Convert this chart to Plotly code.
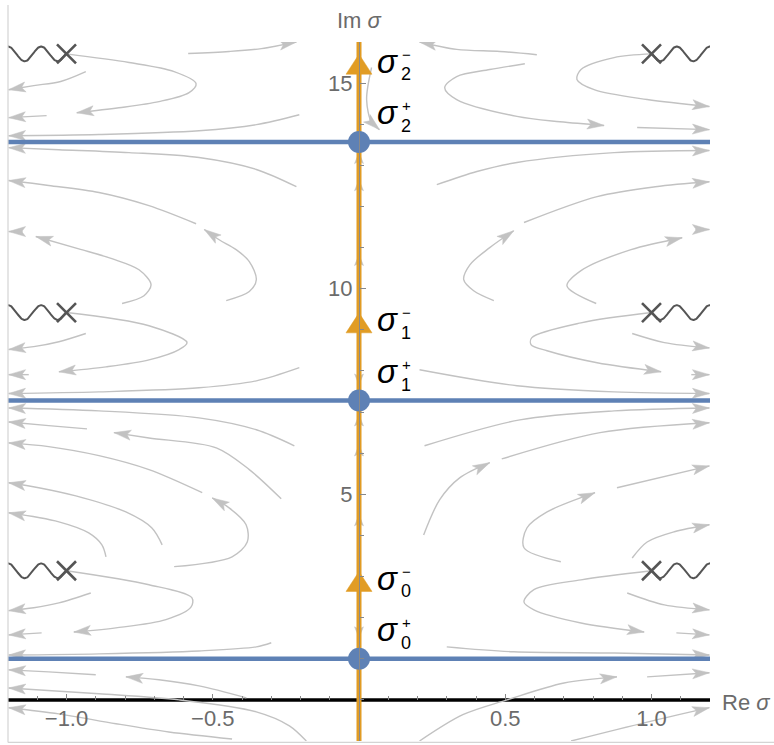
import numpy as np
import plotly.graph_objects as go

# ---------------- plot window ----------------
X_RANGE = [-1.2, 1.2]
Y_RANGE = [-1.0, 16.0]

# axis ticks
x_tick_vals = [-1.0, -0.5, 0.5, 1.0]
x_tick_text = ["\u22121.0", "\u22120.5", "0.5", "1.0"]
y_tick_vals = [5, 10, 15]
y_tick_text = ["5", "10", "15"]

# points on the imaginary axis
sigma_plus_im = [1.0, 7.28, 13.57]     # σ_n^+  (blue lines / dots)
sigma_minus_im = [2.88, 9.17, 15.46]   # σ_n^-  (orange triangles)
label_index = ["0", "1", "2"]

# branch points at Re σ = ±1, cuts running outward
branch_re = [-1.0, 1.0]
branch_im = [3.14, 9.42, 15.71]

# small flow arrows lying on the imaginary axis
axis_flow_up = [4.50, 6.20, 6.93, 10.83, 12.65, 13.31]
axis_flow_down = [1.51, 7.66]

# streamlines: (Re σ, Im σ) points listed in the flow direction
streams_left_upper = [
    [(-0.584, 15.72), (-0.444, 15.77), (-0.334, 15.84), (-0.214, 16.0)],
    [(-1.0, 15.71), (-0.786, 15.50), (-0.632, 15.28), (-0.557, 14.99), (-0.581, 14.77),
     (-0.684, 14.55), (-0.821, 14.40), (-0.965, 14.28)],
    [(-0.934, 15.28), (-1.020, 15.04), (-1.112, 14.94), (-1.198, 14.84)],
    [(-1.068, 14.21), (-1.198, 14.16)],
    [(-0.204, 14.23), (-0.351, 13.99), (-0.547, 13.84), (-0.889, 13.75), (-1.198, 13.72)],
    [(-0.214, 12.48), (-0.351, 12.90), (-0.547, 13.19), (-0.786, 13.31), (-1.026, 13.38), (-1.198, 13.43)],
    [(-0.557, 11.58), (-0.718, 12.02), (-0.889, 12.34), (-1.061, 12.51), (-1.198, 12.63)],
    [(-1.150, 11.39), (-1.198, 11.39)],
]

streams_left_middle = [
    [(-0.810, 9.64), (-0.735, 9.83), (-0.711, 10.10), (-0.752, 10.46), (-0.845, 10.73),
     (-0.958, 10.97), (-1.105, 11.27)],
    [(-0.454, 9.71), (-0.375, 9.93), (-0.351, 10.22), (-0.375, 10.66), (-0.420, 10.95),
     (-0.478, 11.19), (-0.529, 11.44)],
    [(-1.0, 9.42), (-0.718, 9.10), (-0.588, 8.69), (-0.615, 8.52), (-0.718, 8.27),
     (-0.865, 8.10), (-1.026, 7.98)],
    [(-0.934, 8.91), (-1.026, 8.71), (-1.112, 8.59), (-1.198, 8.52)],
    [(-1.129, 7.91), (-1.198, 7.91)],
    [(-0.204, 8.08), (-0.351, 7.76), (-0.547, 7.59), (-0.889, 7.49), (-1.198, 7.45)],
    [(-0.221, 6.18), (-0.351, 6.57), (-0.547, 6.86), (-0.889, 7.03), (-1.198, 7.10)],
    [(-0.930, 6.59), (-1.061, 6.67), (-1.198, 6.76)],
    [(-0.266, 4.89), (-0.375, 5.60), (-0.488, 6.13), (-0.718, 6.37), (-0.838, 6.50)],
    [(-0.536, 5.04), (-0.718, 5.60), (-0.889, 5.94), (-1.061, 6.16), (-1.198, 6.25)],
    [(-0.673, 3.77), (-0.708, 4.18), (-0.797, 4.57), (-0.968, 4.96), (-1.095, 5.16), (-1.198, 5.28)],
    [(-0.632, 3.24), (-0.434, 3.48), (-0.382, 3.84), (-0.386, 4.26), (-0.444, 4.67), (-0.502, 4.91)],
    [(-0.865, 3.48), (-0.879, 3.77), (-0.924, 4.06), (-1.026, 4.33), (-1.198, 4.55)],
]

streams_left_lower = [
    [(-1.0, 3.14), (-0.718, 2.80), (-0.571, 2.48), (-0.574, 2.26), (-0.660, 1.95),
     (-0.831, 1.75), (-0.975, 1.65)],
    [(-0.917, 2.60), (-1.026, 2.36), (-1.112, 2.24), (-1.198, 2.17)],
    [(-1.085, 1.63), (-1.198, 1.58)],
    [(-0.300, 1.39), (-0.351, 1.29), (-0.547, 1.19), (-0.889, 1.12), (-1.198, 1.09)],
    [(-0.900, 0.61), (-1.061, 0.68), (-1.198, 0.73)],
    [(-0.385, 0.05), (-0.547, 0.34), (-0.684, 0.49), (-0.797, 0.56)],
    [(-0.180, -1.0), (-0.238, -0.63), (-0.351, -0.29), (-0.615, 0.0), (-0.889, 0.15), (-1.198, 0.29)],
    [(-0.434, -0.95), (-0.650, -0.78), (-0.831, -0.58), (-1.026, -0.34), (-1.198, -0.19)],
]

streams_right_upper = [
    [(0.608, 15.69), (0.482, 15.77), (0.334, 15.82), (0.207, 16.0)],
    [(1.0, 15.71), (0.872, 15.62), (0.759, 15.33), (0.745, 15.09), (0.804, 14.84),
     (0.985, 14.60), (1.198, 14.43)],
    [(0.567, 15.47), (0.447, 15.33), (0.334, 15.16), (0.293, 14.89), (0.334, 14.60),
     (0.540, 14.19), (0.687, 14.06), (0.838, 13.97)],
    [(0.951, 13.92), (1.198, 13.87)],
    [(0.266, 12.53), (0.403, 12.85), (0.540, 13.07), (0.872, 13.31), (1.198, 13.36)],
    [(0.564, 11.61), (0.814, 12.24), (1.013, 12.48), (1.198, 12.60)],
    [(1.150, 11.44), (1.198, 11.44)],
    [(0.043, 15.38), (0.026, 14.60), (0.043, 14.04), (0.070, 13.87)],
]

streams_right_middle = [
    [(0.811, 9.64), (0.711, 10.07), (0.759, 10.44), (0.930, 10.95), (1.105, 11.24)],
    [(0.461, 9.71), (0.392, 9.95), (0.358, 10.22), (0.379, 10.58), (0.447, 11.00), (0.529, 11.41)],
    [(1.0, 9.42), (0.759, 9.17), (0.591, 8.81), (0.588, 8.64), (0.643, 8.49),
     (0.814, 8.20), (1.033, 7.98)],
    [(0.934, 8.91), (1.044, 8.69), (1.198, 8.56)],
    [(1.136, 7.91), (1.198, 7.91)],
    [(0.207, 8.03), (0.540, 7.64), (0.872, 7.49), (1.198, 7.45)],
    [(0.224, 6.18), (0.550, 6.81), (0.872, 7.03), (1.198, 7.10)],
    [(0.488, 5.86), (0.824, 6.50), (1.198, 6.74)],
    [(0.221, 4.01), (0.276, 4.87), (0.344, 5.40), (0.447, 5.77)],
    [(0.882, 5.16), (1.198, 5.69)],
    [(0.690, 3.36), (0.564, 3.70), (0.574, 4.18), (0.643, 4.57), (0.807, 5.04)],
    [(0.934, 3.45), (0.985, 3.84), (1.078, 4.09), (1.198, 4.26)],
]

streams_right_lower = [
    [(1.0, 3.14), (0.759, 2.92), (0.598, 2.68), (0.564, 2.38), (0.598, 2.19),
     (0.759, 1.87), (0.975, 1.65)],
    [(0.917, 2.60), (1.044, 2.31), (1.198, 2.19)],
    [(1.085, 1.63), (1.198, 1.58)],
    [(0.300, 1.29), (0.529, 1.17), (0.872, 1.14), (1.198, 1.09)],
    [(0.207, -1.0), (0.355, -0.36), (0.506, 0.0), (0.701, 0.41), (0.882, 0.56)],
    [(0.985, 0.56), (1.198, 0.66)],
    [(0.725, -1.0), (0.985, -0.54), (1.198, -0.19)],
]

all_streams = (streams_left_upper + streams_left_middle + streams_left_lower
               + streams_right_upper + streams_right_middle + streams_right_lower)

# ---------------- styling ----------------
W, H = 774, 745
MARGIN = dict(l=8, r=64, t=42, b=4)
SX = (W - MARGIN["l"] - MARGIN["r"]) / (X_RANGE[1] - X_RANGE[0])   # px per unit Re
SY = (H - MARGIN["t"] - MARGIN["b"]) / (Y_RANGE[1] - Y_RANGE[0])   # px per unit Im

BLUE = "#5E81B5"
ORANGE = "#E19C24"
STREAM = "#c2c2c2"
CUT = "#555555"
AXIS_GRAY = "#6b6b6b"
FONT = "Liberation Sans"


def arrowhead(p_from, p_tip, length=17.0, half=5.0, notch=3.8):
    """Notched arrowhead polygon (data units) ending at p_tip."""
    dx = (p_tip[0] - p_from[0]) * SX
    dy = (p_tip[1] - p_from[1]) * SY
    n = np.hypot(dx, dy)
    ux, uy = dx / n, dy / n
    px, py = -uy, ux
    pts = [(0.0, 0.0),
           (-length * ux + half * px, -length * uy + half * py),
           (-(length - notch) * ux, -(length - notch) * uy),
           (-length * ux - half * px, -length * uy - half * py),
           (0.0, 0.0)]
    return ([p_tip[0] + a / SX for a, _ in pts],
            [p_tip[1] + b / SY for _, b in pts])


def triangle(xc, yc, half_w=13.0, half_h=10.0):
    xs = [xc - half_w / SX, xc + half_w / SX, xc, xc - half_w / SX]
    ys = [yc - half_h / SY, yc - half_h / SY, yc + half_h / SY, yc - half_h / SY]
    return xs, ys


def branch_cut(x_pt, y_pt, x_edge, period=0.113, amp=0.18, lead=0.03):
    xs = np.linspace(x_pt, x_edge, 120)
    d = np.abs(xs - x_pt)
    ys = y_pt - amp * np.cos(2 * np.pi * (d - lead) / period)
    return xs, ys


fig = go.Figure()

# stream lines
for s in all_streams:
    fig.add_trace(go.Scatter(
        x=[p[0] for p in s], y=[p[1] for p in s], mode="lines",
        line=dict(color=STREAM, width=1.4, shape="spline", smoothing=0.9),
        hoverinfo="skip", showlegend=False))

# their arrowheads
ax_, ay_ = [], []
for s in all_streams:
    hx, hy = arrowhead(s[-2], s[-1])
    ax_ += hx + [None]
    ay_ += hy + [None]
for yv in axis_flow_up:
    hx, hy = arrowhead((0.0, yv - 0.5), (0.0, yv), length=11, half=4.5, notch=2.5)
    ax_ += hx + [None]
    ay_ += hy + [None]
for yv in axis_flow_down:
    hx, hy = arrowhead((0.0, yv + 0.5), (0.0, yv), length=11, half=4.5, notch=2.5)
    ax_ += hx + [None]
    ay_ += hy + [None]
fig.add_trace(go.Scatter(
    x=ax_, y=ay_, mode="lines", fill="toself", fillcolor=STREAM,
    line=dict(color=STREAM, width=0.5), hoverinfo="skip", showlegend=False))

# horizontal lines through σ_n^+
for yv in sigma_plus_im:
    fig.add_trace(go.Scatter(
        x=X_RANGE, y=[yv, yv], mode="lines",
        line=dict(color=BLUE, width=4.5), hoverinfo="skip", showlegend=False))

# branch cuts and branch points
for xb in branch_re:
    edge = X_RANGE[0] if xb < 0 else X_RANGE[1]
    for yb in branch_im:
        cx, cy = branch_cut(xb, yb, edge)
        fig.add_trace(go.Scatter(
            x=cx, y=cy, mode="lines", line=dict(color=CUT, width=2),
            hoverinfo="skip", showlegend=False))
fig.add_trace(go.Scatter(
    x=[xb for xb in branch_re for _ in branch_im],
    y=[yb for _ in branch_re for yb in branch_im],
    mode="markers",
    marker=dict(symbol="x-thin", size=19, line=dict(width=2.6, color=CUT)),
    hoverinfo="skip", showlegend=False))

# imaginary axis path
fig.add_trace(go.Scatter(
    x=[0, 0], y=[Y_RANGE[0] - 0.2, 16.05], mode="lines",
    line=dict(color=ORANGE, width=5), cliponaxis=False,
    hoverinfo="skip", showlegend=False))

# σ_n^- triangles
tx, ty = [], []
for yv in sigma_minus_im:
    a, b = triangle(0.0, yv)
    tx += a + [None]
    ty += b + [None]
fig.add_trace(go.Scatter(
    x=tx, y=ty, mode="lines", fill="toself", fillcolor=ORANGE,
    line=dict(color=ORANGE, width=0.5), hoverinfo="skip", showlegend=False))

# σ_n^+ dots
fig.add_trace(go.Scatter(
    x=[0.0] * len(sigma_plus_im), y=sigma_plus_im, mode="markers",
    marker=dict(color=BLUE, size=22, line=dict(width=0)),
    hoverinfo="skip", showlegend=False))

# labels σ_n^± : glyph, superscript sign above, index below
ann = []
for i, n in enumerate(label_index):
    for yv, sign, dy in ((sigma_minus_im[i], "\u2212", 0), (sigma_plus_im[i], "+", 26)):
        common = dict(x=0, y=yv, xref="x", yref="y", showarrow=False, borderpad=0)
        ann.append(dict(common, text="<i>σ</i>", xanchor="right", yanchor="middle",
                        xshift=40, yshift=dy + 3,
                        font=dict(family=FONT, size=33, color="black")))
        ann.append(dict(common, text=sign, xanchor="left", yanchor="middle",
                        xshift=42, yshift=dy + 10,
                        font=dict(family=FONT, size=15, color="black")))
        ann.append(dict(common, text=n, xanchor="left", yanchor="middle",
                        xshift=41, yshift=dy - 10,
                        font=dict(family=FONT, size=18, color="black")))

# axis titles
ann.append(dict(x=0.5, y=1, xref="paper", yref="paper", text="Im <i>σ</i>",
                xanchor="center", yanchor="middle", yshift=22, showarrow=False,
                font=dict(family=FONT, size=22, color=AXIS_GRAY)))
ann.append(dict(x=1, y=0, xref="paper", yref="y", text="Re <i>σ</i>",
                xanchor="left", yanchor="middle", xshift=10, yshift=-3, showarrow=False,
                font=dict(family=FONT, size=22, color=AXIS_GRAY)))

shapes = [
    # real axis
    dict(type="line", xref="x", yref="y", x0=X_RANGE[0], x1=X_RANGE[1], y0=0, y1=0,
         line=dict(color="black", width=3.5), layer="below"),
    # frame edges
    dict(type="line", xref="paper", yref="paper", x0=0, x1=0, y0=-0.002, y1=1.053,
         line=dict(color="#d4d4d4", width=1.2)),
    dict(type="line", xref="paper", yref="paper", x0=0, x1=1.1, y0=-0.002, y1=-0.002,
         line=dict(color="#d4d4d4", width=1.2)),
]

fig.update_layout(
    width=W, height=H, margin=MARGIN,
    paper_bgcolor="white", plot_bgcolor="white", showlegend=False,
    annotations=ann, shapes=shapes,
    xaxis=dict(range=X_RANGE, anchor="free",
               position=(0 - Y_RANGE[0]) / (Y_RANGE[1] - Y_RANGE[0]),
               showgrid=False, zeroline=False, showline=False,
               tickmode="array", tickvals=x_tick_vals, ticktext=x_tick_text,
               ticks="inside", ticklen=6, tickwidth=1, tickcolor="#888",
               ticklabelstandoff=3,
               tickfont=dict(family=FONT, size=22, color=AXIS_GRAY),
               minor=dict(ticks="inside", ticklen=3.5, tick0=0, dtick=0.1,
                          tickcolor="#888", showgrid=False)),
    yaxis=dict(range=Y_RANGE, anchor="free",
               position=(0 - X_RANGE[0]) / (X_RANGE[1] - X_RANGE[0]),
               showgrid=False, zeroline=False, showline=True,
               linecolor="#8a8a8a", linewidth=1,
               tickmode="array", tickvals=y_tick_vals, ticktext=y_tick_text,
               ticks="inside", ticklen=6, tickwidth=1, tickcolor="#888",
               ticklabelstandoff=2,
               tickfont=dict(family=FONT, size=22, color=AXIS_GRAY),
               minor=dict(ticks="inside", ticklen=3.5, tick0=0, dtick=1,
                          tickcolor="#888", showgrid=False)),
)

fig.write_html("out.html")
